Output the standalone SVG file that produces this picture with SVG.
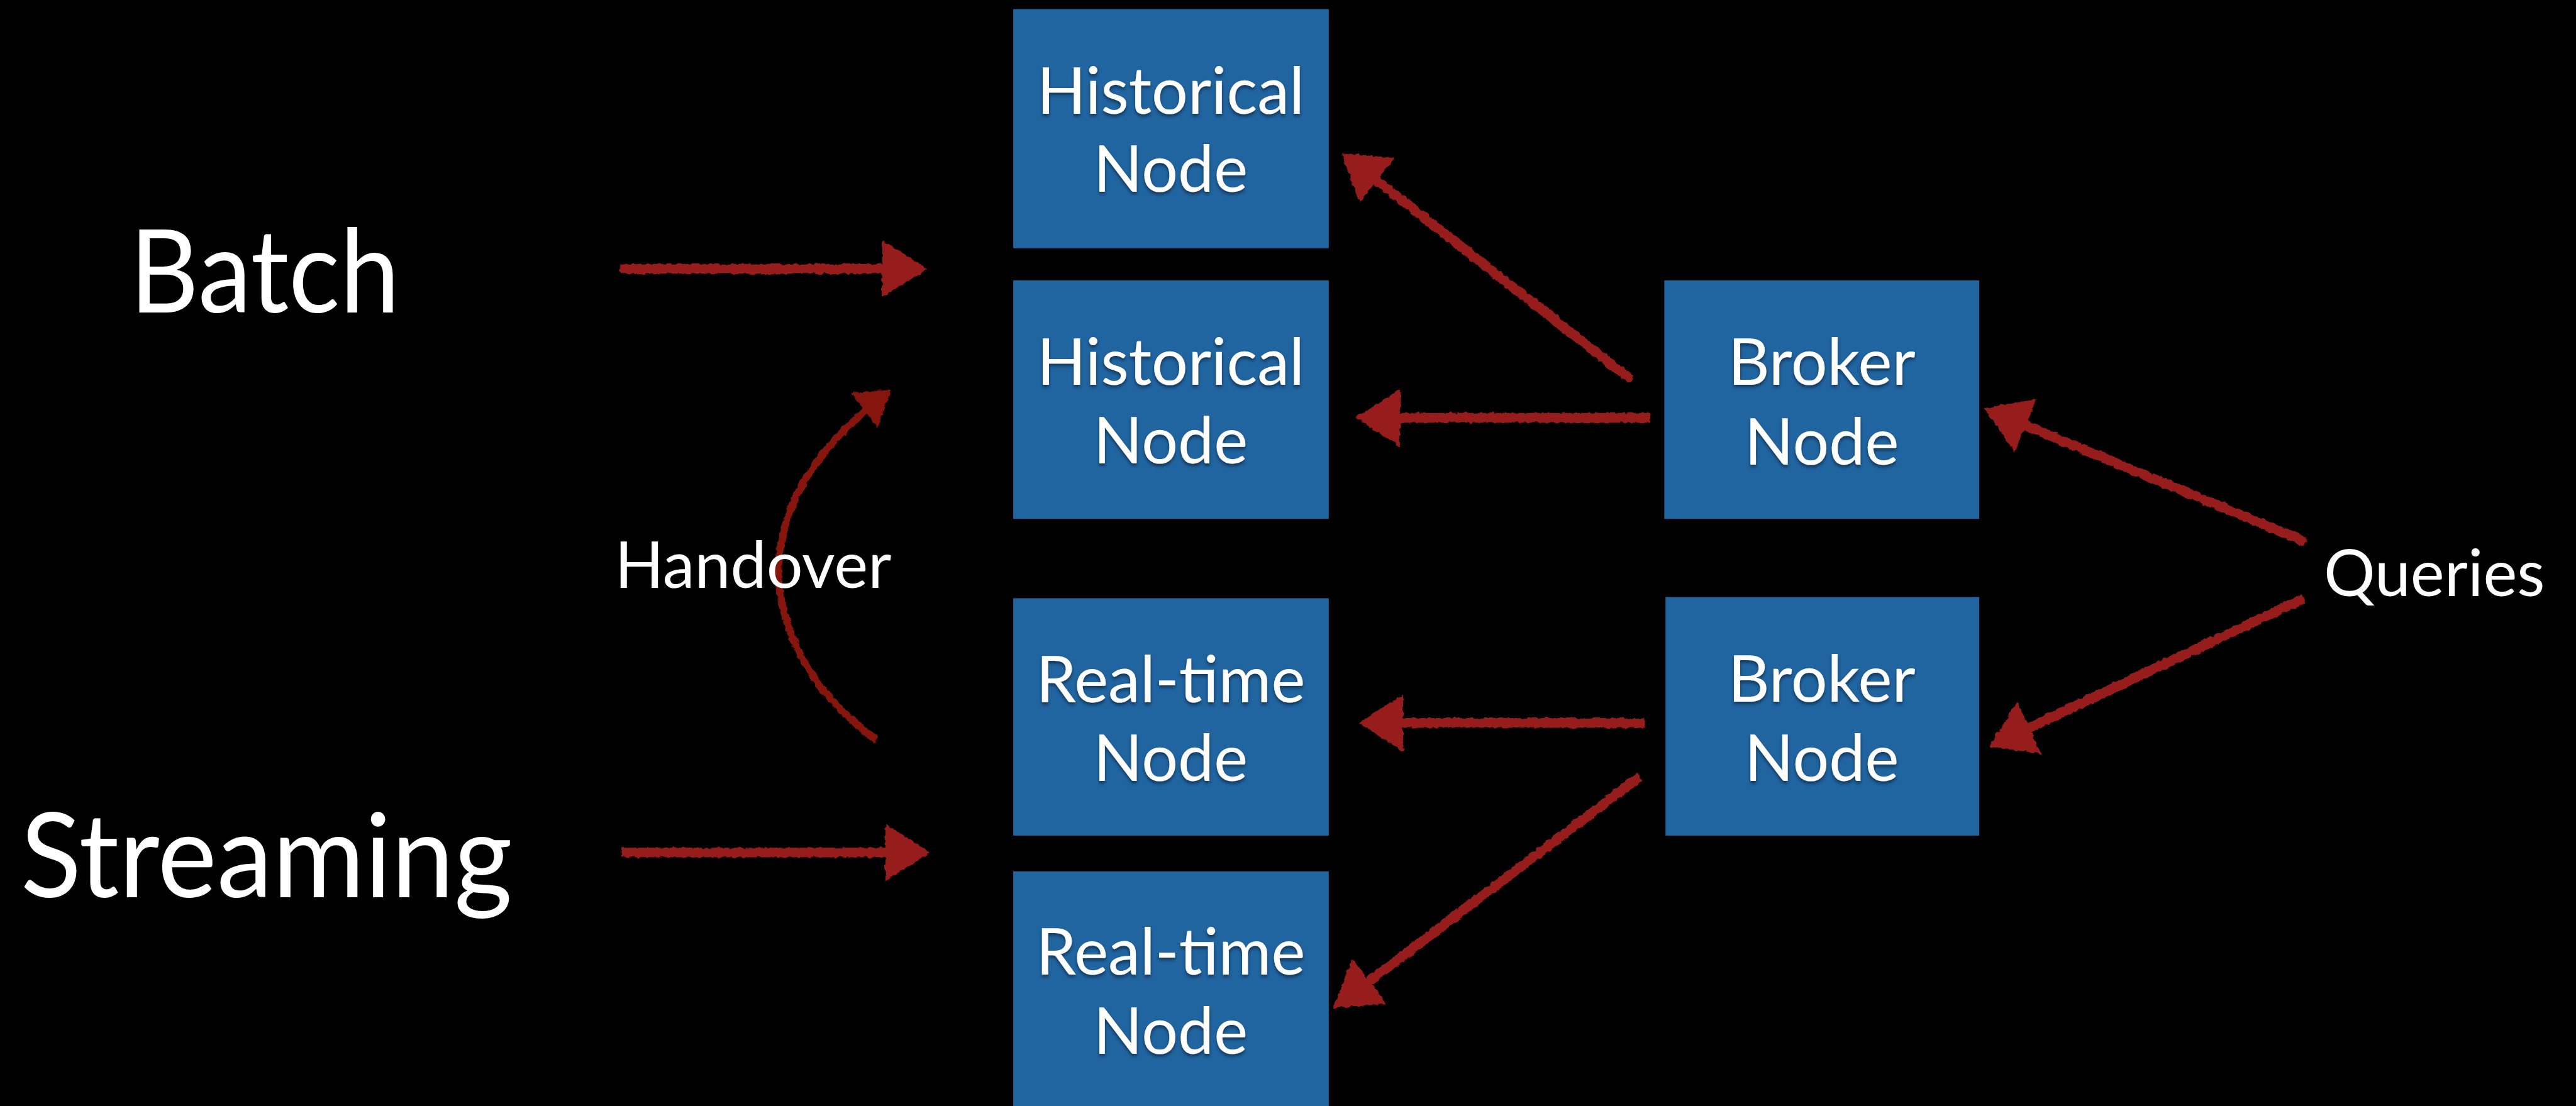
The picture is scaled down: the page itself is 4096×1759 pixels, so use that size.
<svg xmlns="http://www.w3.org/2000/svg" width="4096" height="1759" viewBox="0 0 4096 1759">
  <style>
    .node rect { fill: #2064a0; }
    .node text { fill: #ffffff; font-family: Lato, "Open Sans", sans-serif; font-size: 106px; text-anchor: middle; filter: url(#tshadow); }
    .label { fill: #ffffff; font-family: Lato, "Open Sans", sans-serif; }
    .conn path { fill: none; stroke: #971b1b; stroke-width: 16; stroke-linecap: butt; }
    .conn path.hand { stroke: #861610; stroke-width: 12; }
  </style>
  <defs>
    <filter id="tshadow" x="-10%" y="-20%" width="120%" height="150%">
      <feDropShadow dx="0" dy="4" stdDeviation="3" flood-color="#000000" flood-opacity="0.45"/>
    </filter>
    <filter id="chalk" x="-5%" y="-5%" width="110%" height="110%">
      <feTurbulence type="fractalNoise" baseFrequency="0.12" numOctaves="2" seed="3" result="n"/>
      <feDisplacementMap in="SourceGraphic" in2="n" scale="7" xChannelSelector="R" yChannelSelector="G"/>
    </filter>
    <marker id="ah" markerUnits="userSpaceOnUse" viewBox="0 0 74 94" refX="54" refY="47" markerWidth="74" markerHeight="94" orient="auto">
      <path d="M0,0 L74,47 L0,94 Z" fill="#971b1b"/>
    </marker>
    <marker id="ahs" markerUnits="userSpaceOnUse" viewBox="0 0 56 72" refX="36" refY="36" markerWidth="56" markerHeight="72" orient="auto">
      <path d="M0,0 L56,36 L0,72 Z" fill="#861610"/>
    </marker>
  </defs>
  <rect x="0" y="0" width="4096" height="1759" fill="#000000"/>
  <g transform="scale(0.963)">
    <g id="connectors" class="conn" filter="url(#chalk)">
      <path d="M1024,444 L1511,444" marker-end="url(#ah)"/>
      <path d="M1026,1408 L1516,1408" marker-end="url(#ah)"/>
      <path class="hand" d="M1447,1222 Q1300,1115 1285,955 Q1282,790 1456,656" marker-end="url(#ahs)"/>
      <path d="M2693,627 L2231,265" marker-end="url(#ah)"/>
      <path d="M2725,690 L2258,690" marker-end="url(#ah)"/>
      <path d="M2716,1194 L2263,1194" marker-end="url(#ah)"/>
      <path d="M2707,1283 L2218,1653" marker-end="url(#ah)"/>
      <path d="M3807,895 L3295,682" marker-end="url(#ah)"/>
      <path d="M3804,988 L3302,1225" marker-end="url(#ah)"/>
    </g>
    <g id="hist1" class="node">
      <rect x="1673" y="15" width="521" height="395"/>
      <text x="1933" y="188">Historical</text>
      <text x="1933" y="317">Node</text>
    </g>
    <g id="hist2" class="node">
      <rect x="1673" y="463" width="521" height="394"/>
      <text x="1933" y="636">Historical</text>
      <text x="1933" y="765">Node</text>
    </g>
    <g id="rt1" class="node">
      <rect x="1673" y="988" width="521" height="392"/>
      <text x="1933" y="1160">Real-time</text>
      <text x="1933" y="1290">Node</text>
    </g>
    <g id="rt2" class="node">
      <rect x="1673" y="1439" width="521" height="400"/>
      <text x="1933" y="1610">Real-time</text>
      <text x="1933" y="1740">Node</text>
    </g>
    <g id="broker1" class="node">
      <rect x="2748" y="463" width="520" height="394"/>
      <text x="3008" y="636">Broker</text>
      <text x="3008" y="767">Node</text>
    </g>
    <g id="broker2" class="node">
      <rect x="2750" y="986" width="518" height="394"/>
      <text x="3008" y="1159">Broker</text>
      <text x="3008" y="1290">Node</text>
    </g>
    <g id="batch">
      <text class="label" x="214" y="516" font-size="191" textLength="446" lengthAdjust="spacingAndGlyphs">Batch</text>
    </g>
    <g id="streaming">
      <text class="label" x="34" y="1482" font-size="194" textLength="812" lengthAdjust="spacingAndGlyphs">Streaming</text>
    </g>
    <g id="handover">
      <text class="label" x="1015" y="971" font-size="106">Handover</text>
    </g>
    <g id="queries">
      <text class="label" x="3837" y="984" font-size="106">Queries</text>
    </g>
  </g>
</svg>
